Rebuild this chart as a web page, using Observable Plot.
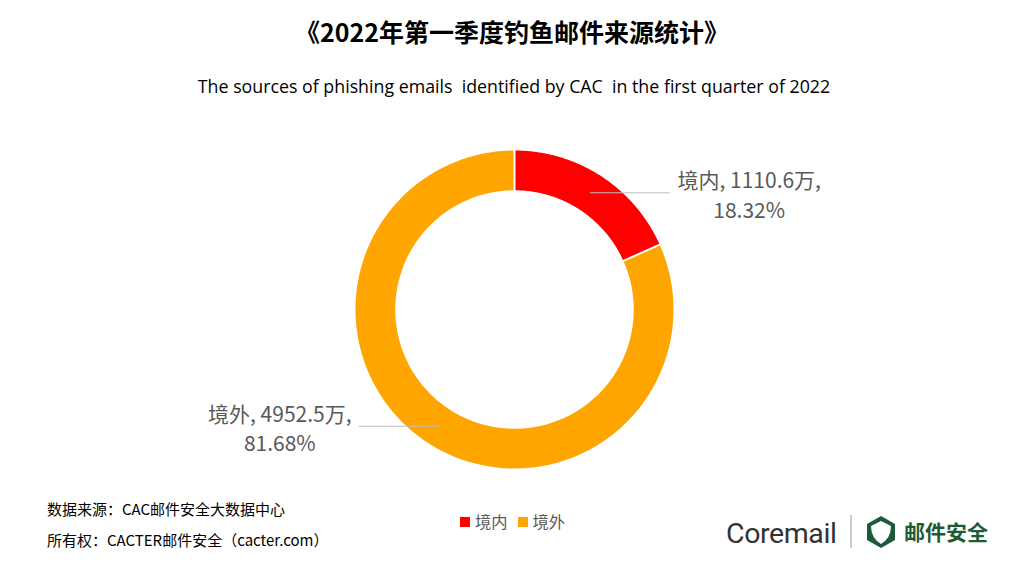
<!DOCTYPE html>
<html><head><meta charset="utf-8">
<script src="https://cdn.jsdelivr.net/npm/d3@7"></script>
<script src="https://cdn.jsdelivr.net/npm/@observablehq/plot@0.6"></script>
<style>
html,body{margin:0;padding:0;background:#fff;}
#wrap{position:relative;width:1024px;height:577px;overflow:hidden;font-family:"Noto Sans CJK SC","Noto Sans",sans-serif;}
.abs{position:absolute;white-space:nowrap;}
#title{left:0;width:1024px;top:13px;text-align:center;font-size:25px;font-weight:700;color:#000;}
#sub{left:0;width:1028px;top:74px;text-align:center;font-family:"Open Sans","Noto Sans",sans-serif;font-size:17.8px;color:#000;}
#plot{position:absolute;left:0;top:110px;}
.foot{font-size:15px;color:#000;left:47px;}
#legend{left:460px;top:509px;font-size:16.3px;color:#595959;}
#legend span.sw{display:inline-block;width:10px;height:10px;margin-right:5px;vertical-align:1px;}
#logo{left:726px;top:513px;}
</style></head><body>
<div id="wrap">
<div id="title" class="abs">《2022年第一季度钓鱼邮件来源统计》</div>
<div id="sub" class="abs">The sources of phishing emails&nbsp; identified by CAC&nbsp; in the first quarter of 2022</div>
<div id="plot"></div>
<div class="abs foot" style="top:498px">数据来源：CAC邮件安全大数据中心</div>
<div class="abs foot" style="top:529px">所有权：CACTER邮件安全（cacter.com）</div>
<div id="legend" class="abs"></div>
<div id="logo" class="abs">
<svg width="270" height="40" viewBox="0 0 270 40">
<text x="0" y="30" font-family="Roboto, 'Noto Sans', sans-serif" font-size="28.5" fill="#333" letter-spacing="-0.4">Coremail</text>
<line x1="125" y1="2" x2="125" y2="35" stroke="#999" stroke-width="1"/>
<path d="M155,3 L169,11 L169,27 L155,35 L141,27 L141,11 Z" fill="#1d5b38"/>
<path d="M155,8 L165,13 Q165,25 155,31 Q145,25 145,13 Z" fill="#fff"/>
<text x="178" y="27" font-family="'Noto Sans CJK SC', sans-serif" font-weight="700" font-size="21" fill="#1d5b38">邮件安全</text>
</svg>
</div>
</div>
<script>
// data
const categories = ["境内", "境外"];
const values = [1110.6, 4952.5];
const percents = ["18.32%", "81.68%"];
const colors = ["#FF0000", "#FFA500"];

const outerR = 1, innerR = 0.75;
const W = 1024, H = 400;
const pxPerUnit = 159;
const cx = 514, cy = 199;
const xDomain = [-cx / pxPerUnit, (W - cx) / pxPerUnit];
const yDomain = [-(H - cy) / pxPerUnit, cy / pxPerUnit];

const pie = d3.pie().sort(null).value(d => d.value)(categories.map((c, i) => ({cat: c, value: values[i], pct: percents[i], color: colors[i]})));

// ring polygons (angle clockwise from top)
const pt = (a, r) => ({x: r * Math.sin(a), y: r * Math.cos(a)});
const ringPts = [];
pie.forEach(p => {
  const n = 200;
  for (let k = 0; k <= n; k++) { const a = p.startAngle + (p.endAngle - p.startAngle) * k / n; ringPts.push({...pt(a, outerR), cat: p.data.cat}); }
  for (let k = n; k >= 0; k--) { const a = p.startAngle + (p.endAngle - p.startAngle) * k / n; ringPts.push({...pt(a, innerR), cat: p.data.cat}); }
});
// separators
const sepPts = [];
pie.forEach(p => { sepPts.push({...pt(p.startAngle, innerR), cat: p.data.cat}); sepPts.push({...pt(p.startAngle, outerR), cat: p.data.cat}); });

// leader lines and labels
const midR = (outerR + innerR) / 2;
const leaders = [];
const labels = [];
pie.forEach(p => {
  const a = (p.startAngle + p.endAngle) / 2;
  const c = pt(a, midR);
  const dir = Math.sin(a) >= 0 ? 1 : -1;
  const ex = c.x + dir * 0.5;
  leaders.push({x: c.x, y: c.y, cat: p.data.cat});
  leaders.push({x: ex, y: c.y, cat: p.data.cat});
  const lx = ex + dir * 0.5;
  labels.push({x: lx, y: c.y + 0.07, text: `${p.data.cat}, ${p.data.value}万,`});
  labels.push({x: lx, y: c.y - 0.115, text: p.data.pct});
});

const chart = Plot.plot({
  width: W, height: H,
  margin: 0,
  x: {domain: xDomain, axis: null},
  y: {domain: yDomain, axis: null},
  color: {domain: categories, range: colors},
  marks: [
    Plot.line(ringPts, {x: "x", y: "y", z: "cat", fill: "cat", stroke: "none"}),
    Plot.line(sepPts, {x: "x", y: "y", z: "cat", stroke: "#fff", strokeWidth: 2}),
    Plot.line(leaders, {x: "x", y: "y", z: "cat", stroke: "#bfbfbf", strokeWidth: 1}),
    Plot.text(labels, {x: "x", y: "y", text: "text", fill: "#595959", fontSize: 21, fontFamily: "'Noto Sans CJK SC', 'Open Sans', sans-serif"})
  ]
});
document.getElementById("plot").appendChild(chart);

// legend
const lg = document.getElementById("legend");
categories.forEach((c, i) => {
  const s = document.createElement("span");
  s.innerHTML = `<span class="sw" style="background:${colors[i]}"></span>${c}`;
  s.style.marginRight = "10px";
  lg.appendChild(s);
});
</script>
</body></html>
